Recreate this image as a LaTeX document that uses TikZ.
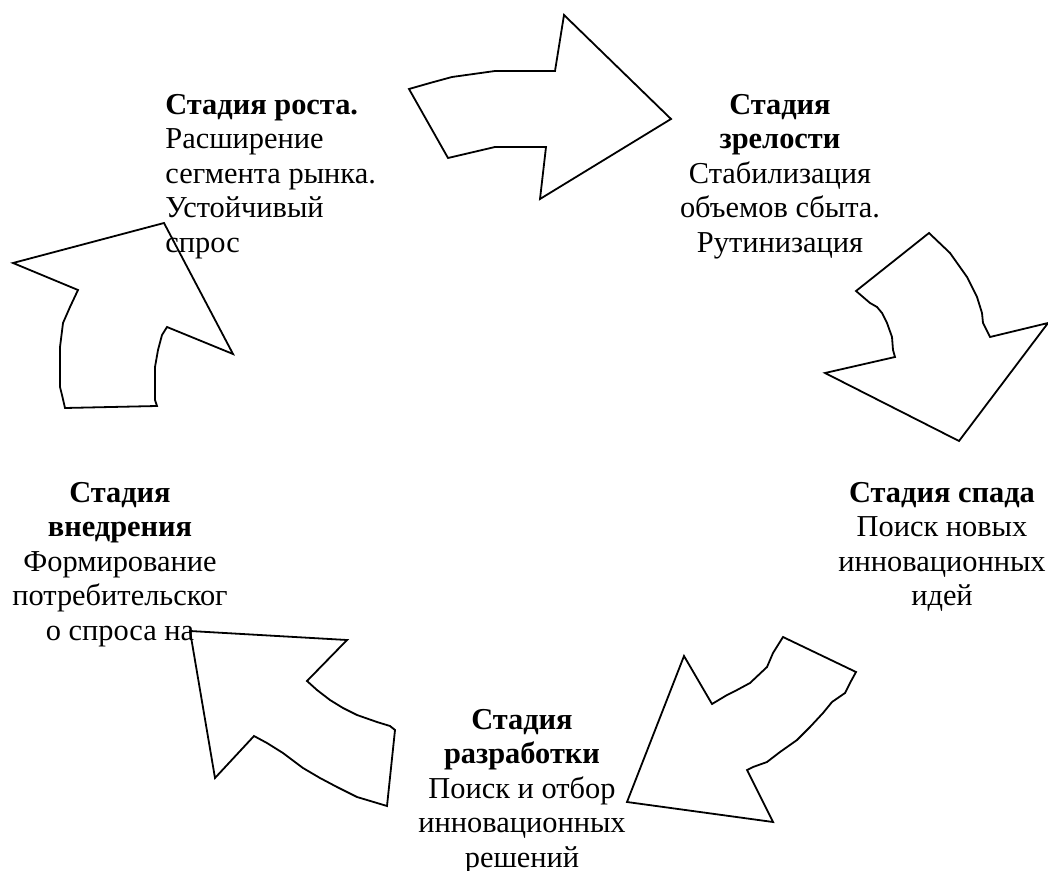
\documentclass[tikz,border=0pt]{standalone}
\usepackage{fontspec}
\setmainfont{Liberation Serif}
\usepackage{tikz}

\begin{document}
\begin{tikzpicture}[x=0.5pt,y=-0.5pt,
  flecha/.style={draw=black,line width=0.9pt,line join=miter},
  etapa/.style={align=center,inner sep=0pt,anchor=north,font=\fontsize{15.2}{17.2}\selectfont}]
\useasboundingbox (0,0) rectangle (1048,871);
%\useasboundingbox fija los margenes
\path (165,94) node(a)[etapa,anchor=north west,align=left]{\textbf{Стадия роста.}\\ Расширение\\ сегмента рынка.\\ Устойчивый\\ спрос}
(780,94) node(b)[etapa]{\textbf{Стадия}\\ \textbf{зрелости}\\ Стабилизация\\ объемов сбыта.\\ Рутинизация}
(942,482) node(c)[etapa]{\textbf{Стадия спада}\\ Поиск новых\\ инновационных\\ идей}
(522,709) node(d)[etapa]{\textbf{Стадия}\\ \textbf{разработки}\\ Поиск и отбор\\ инновационных\\ решений}
(120,482) node(e)[etapa]{\textbf{Стадия}\\ \textbf{внедрения}\\ Формирование\\ потребительског\\ о спроса на};
%flechas
\draw[flecha](409,89)--(430,83)--(452,77)--(495,71)--(555,71)--(564,15)--(671,119)--(540,199)--(546,147)--(495,147)--(448,158)--cycle;
\draw[flecha](929,233)--(950,253)--(967,277)--(977,297)--(982,313)--(983,323)--(990,337)--(1048,323)--(959,441)--(825,373)--(895,357)--(893,350)--(892,337)--(887,323)--(882,313)--(877,307)--(870,303)--(863,297)--(856,291)--cycle;
\draw[flecha](783,637)--(856,672)--(850,683)--(845,693)--(832,702)--(823,713)--(810,727)--(797,740)--(780,752)--(767,762)--(753,767)--(747,770)--(773,822)--(627,802)--(684,656)--(712,704)--(727,695)--(737,690)--(750,683)--(767,667)--(773,653)--cycle;
\draw[flecha](190,631)--(347,640)--(307,681)--(317,690)--(330,700)--(343,708)--(357,715)--(377,722)--(390,726)--(395,730)--(387,806)--(357,797)--(337,787)--(320,778)--(303,768)--(283,753)--(267,743)--(254,736)--(215,778)--cycle;
\draw[flecha](164,223)--(233,354)--(167,327)--(162,335)--(158,350)--(155,367)--(155,400)--(157,406)--(65,408)--(62,395)--(60,387)--(60,347)--(63,323)--(70,307)--(78,290)--(13,263)--cycle;
\end{tikzpicture}
\end{document}
